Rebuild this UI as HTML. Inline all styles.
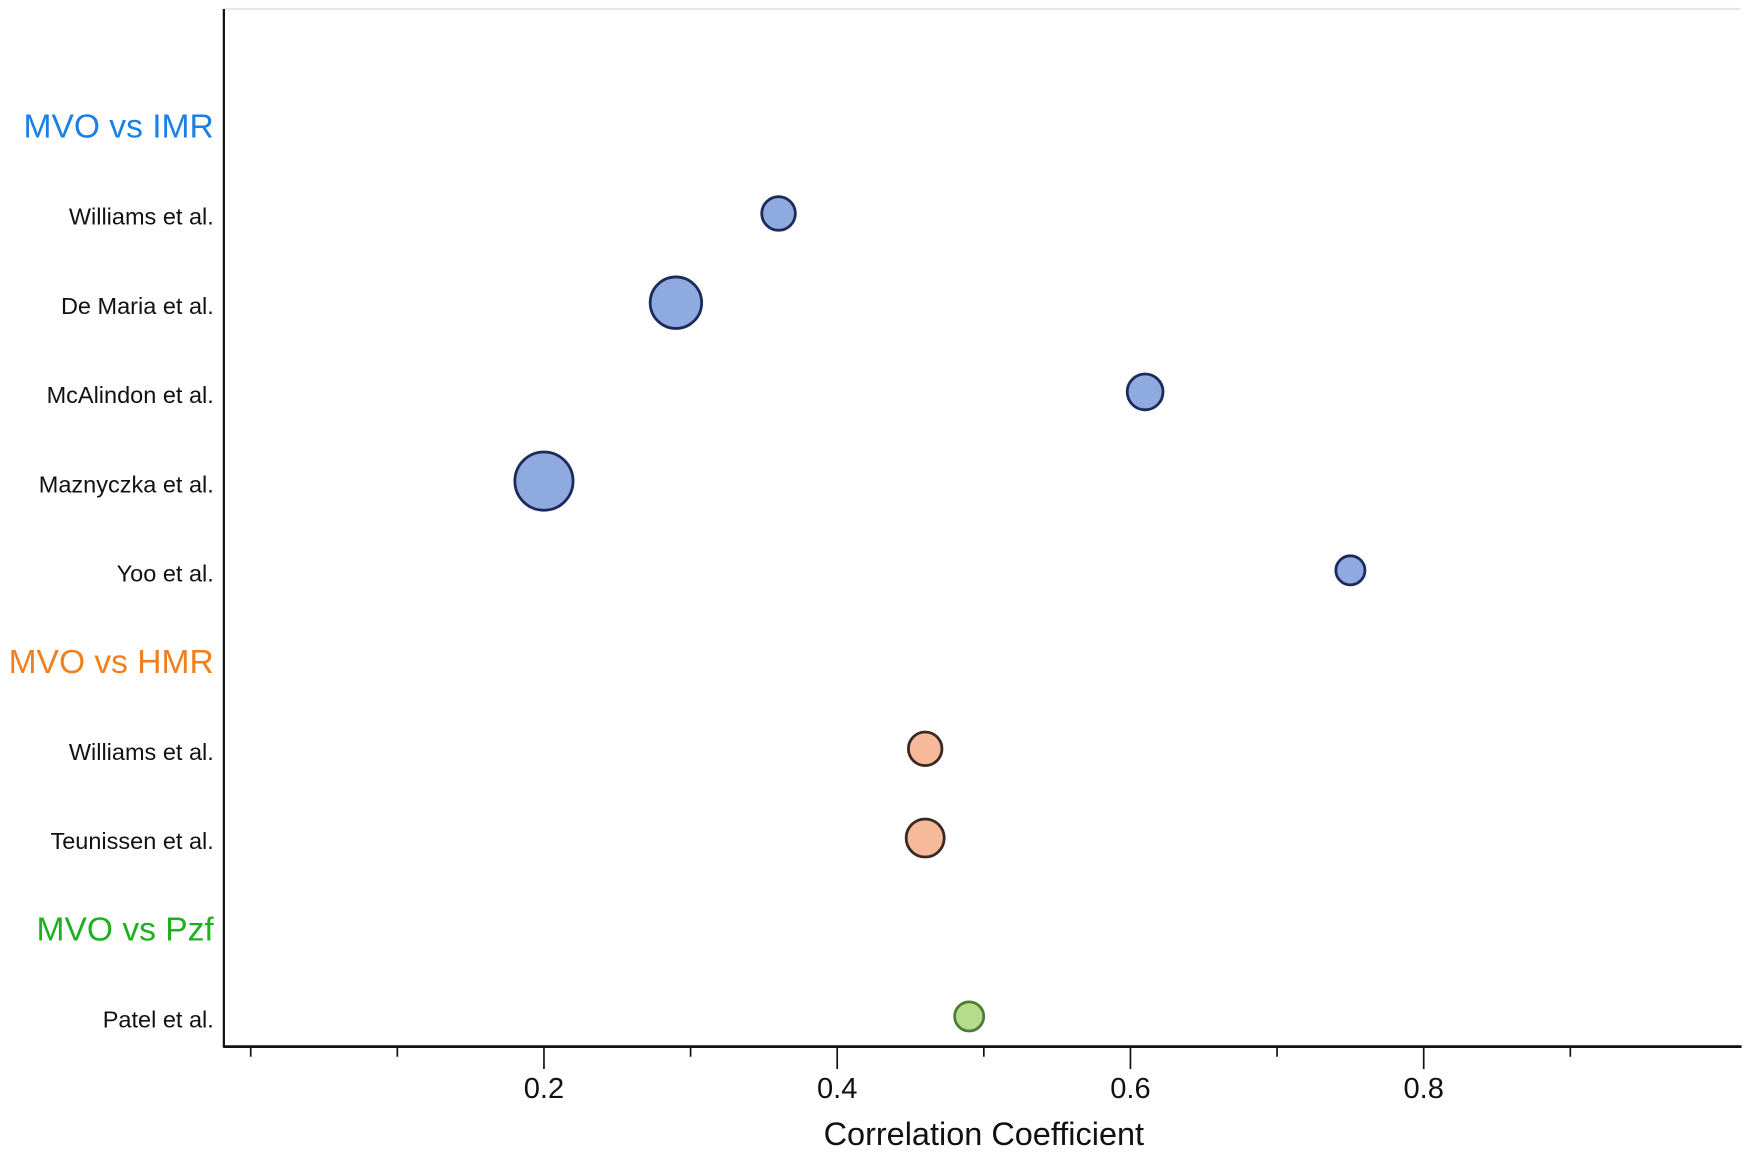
<!DOCTYPE html>
<html><head><meta charset="utf-8"><style>
html,body{margin:0;padding:0;background:#fff;}
svg{display:block;}
text{font-family:"Liberation Sans",sans-serif;}
</style></head><body>
<svg id="chart" width="1755" height="1153" viewBox="0 0 1568 1030" preserveAspectRatio="none" xmlns="http://www.w3.org/2000/svg">
<rect x="0" y="0" width="1568" height="1030" fill="#fff"/>
<line x1="200" y1="8" x2="1555" y2="8" stroke="#e6e6e6" stroke-width="2"/>
<line x1="200" y1="8" x2="200" y2="936" stroke="#111" stroke-width="2"/>
<line x1="200" y1="935" x2="1556" y2="935" stroke="#111" stroke-width="2.5"/>
<g id="ticks"></g>
<g id="labels"></g>
<g id="points"></g>
<text x="879" y="1023" font-size="29" text-anchor="middle" fill="#111">Correlation Coefficient</text>
</svg>
<script>
const rowLabels = ["MVO vs IMR","Williams et al.","De Maria et al.","McAlindon et al.","Maznyczka et al.","Yoo et al.","MVO vs HMR","Williams et al.","Teunissen et al.","MVO vs Pzf","Patel et al."];
const rowIsHeader = [true,false,false,false,false,false,true,false,false,true,false];
const headerColors = ["#1a80e6","#f0801e","#1eb01e"];
const pointRows = [1,2,3,4,5,7,8,10];
const pointValues = [0.36,0.29,0.61,0.20,0.75,0.46,0.46,0.49];
const pointSizes = [15,23,16,26,13,15,17,13];
const pointGroups = [0,0,0,0,0,1,1,2];
const majorTicks = [0.2,0.4,0.6,0.8];
const minorTicks = [0,0.1,0.3,0.5,0.7,0.9];
const tickLabels = ["0.2","0.4","0.6","0.8"];

const NS="http://www.w3.org/2000/svg";
const xScale = v => 224 + v*1310;
const yScale = i => 113 + i*79.7;
const fills=["#8eaade","#f6ba9a","#b4dc8c"], strokes=["#1b2b5c","#3a2a22","#4e7d34"];

const tg=document.getElementById('ticks');
majorTicks.forEach((t,i)=>{
  const l=document.createElementNS(NS,'line');
  l.setAttribute('x1',xScale(t));l.setAttribute('x2',xScale(t));l.setAttribute('y1',935);l.setAttribute('y2',955);
  l.setAttribute('stroke','#111');l.setAttribute('stroke-width','1.5');
  
  
  tg.appendChild(l);
  const tx=document.createElementNS(NS,'text');
  tx.setAttribute('x',xScale(t));tx.setAttribute('y',981);tx.setAttribute('font-size','26');tx.setAttribute('text-anchor','middle');tx.setAttribute('fill','#111');
  tx.textContent=tickLabels[i];
  
  
  tg.appendChild(tx);
});
minorTicks.forEach(t=>{
  const l=document.createElementNS(NS,'line');
  l.setAttribute('x1',xScale(t));l.setAttribute('x2',xScale(t));l.setAttribute('y1',935);l.setAttribute('y2',944);
  l.setAttribute('stroke','#111');l.setAttribute('stroke-width','1.5');
  
  
  tg.appendChild(l);
});
const lg=document.getElementById('labels');
let h=0;
rowLabels.forEach((s,i)=>{
  const tx=document.createElementNS(NS,'text');
  tx.setAttribute('x',191);tx.setAttribute('text-anchor','end');
  if(rowIsHeader[i]){
    tx.setAttribute('y',yScale(i)+10);tx.setAttribute('font-size','30');tx.setAttribute('fill',headerColors[h++]);
    
  } else {
    tx.setAttribute('y',yScale(i)+8);tx.setAttribute('font-size','21');tx.setAttribute('fill','#111');
    
  }
  
  tx.textContent=s;
  lg.appendChild(tx);
});
const pg=document.getElementById('points');
pointValues.forEach((v,i)=>{
  const c=document.createElementNS(NS,'circle');
  const g=pointGroups[i];
  c.setAttribute('cx',xScale(v));c.setAttribute('cy',yScale(pointRows[i])-2);c.setAttribute('r',pointSizes[i]);
  c.setAttribute('fill',fills[g]);c.setAttribute('stroke',strokes[g]);c.setAttribute('stroke-width','2.5');
  
  
  pg.appendChild(c);
});
</script>
</body></html>
